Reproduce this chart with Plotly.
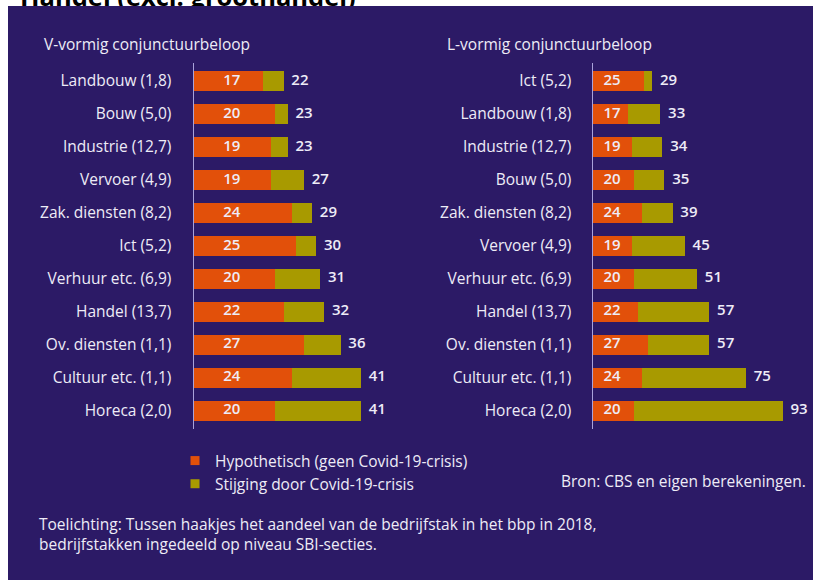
import plotly.graph_objects as go

W, H = 813, 580

# ---------------- data ----------------
title_text = "Handel (excl. groothandel)"
v_title = "V-vormig conjunctuurbeloop"
l_title = "L-vormig conjunctuurbeloop"

v_categories = ["Landbouw (1,8)", "Bouw (5,0)", "Industrie (12,7)", "Vervoer (4,9)",
                "Zak. diensten (8,2)", "Ict (5,2)", "Verhuur etc. (6,9)", "Handel (13,7)",
                "Ov. diensten (1,1)", "Cultuur etc. (1,1)", "Horeca (2,0)"]
v_hypo = [17, 20, 19, 19, 24, 25, 20, 22, 27, 24, 20]
v_total = [22, 23, 23, 27, 29, 30, 31, 32, 36, 41, 41]

l_categories = ["Ict (5,2)", "Landbouw (1,8)", "Industrie (12,7)", "Bouw (5,0)",
                "Zak. diensten (8,2)", "Vervoer (4,9)", "Verhuur etc. (6,9)", "Handel (13,7)",
                "Ov. diensten (1,1)", "Cultuur etc. (1,1)", "Horeca (2,0)"]
l_hypo = [25, 17, 19, 20, 24, 19, 20, 22, 27, 24, 20]
l_total = [29, 33, 34, 35, 39, 45, 51, 57, 57, 75, 93]

legend_names = ["Hypothetisch (geen Covid-19-crisis)", "Stijging door Covid-19-crisis"]
source_text = "Bron: CBS en eigen berekeningen."
note_text = ("Toelichting: Tussen haakjes het aandeel van de bedrijfstak in het bbp in 2018,<br>"
             "bedrijfstakken ingedeeld op niveau SBI-secties.")

# ---------------- style ----------------
BG = "#2C1A66"
ORANGE = "#E2500A"
OLIVE = "#A89A00"
TXT = "#EEECF7"
AXIS = "#A9A2DA"
FONT = "Open Sans"
FS = 15.5

def px(x):
    return x / W

def py(y):
    return 1 - y / H

fig = go.Figure()

panels = [
    (v_categories, v_hypo, v_total, "x", "y"),
    (l_categories, l_hypo, l_total, "x2", "y2"),
]

for cats, hypo, total, xa, ya in panels:
    inc = [t - h for t, h in zip(total, hypo)]
    fig.add_trace(go.Bar(y=cats, x=hypo, orientation="h", marker=dict(color=ORANGE, line=dict(width=0)),
                         xaxis=xa, yaxis=ya, showlegend=False, hoverinfo="skip"))
    fig.add_trace(go.Bar(y=cats, x=inc, orientation="h", marker=dict(color=OLIVE, line=dict(width=0)),
                         xaxis=xa, yaxis=ya, showlegend=False, hoverinfo="skip"))
    # value labels inside the orange part
    fig.add_trace(go.Scatter(y=cats, x=[9.3] * len(cats), mode="text", text=[str(v) for v in hypo],
                             textposition="middle center",
                             textfont=dict(family=FONT, size=15, color=TXT, weight=600),
                             xaxis=xa, yaxis=ya, showlegend=False, hoverinfo="skip", cliponaxis=False))
    # totals right of bar
    fig.add_trace(go.Scatter(y=cats, x=total, mode="text", text=["  " + str(v) for v in total],
                             textposition="middle right",
                             textfont=dict(family=FONT, size=15, color=TXT, weight=600),
                             xaxis=xa, yaxis=ya, showlegend=False, hoverinfo="skip", cliponaxis=False))

# legend entries
for name, col in zip(legend_names, [ORANGE, OLIVE]):
    fig.add_trace(go.Scatter(x=[None], y=[None], mode="markers", name=name,
                             marker=dict(symbol="square", size=9, color=col),
                             xaxis="x", yaxis="y"))

# partially hidden page title (covered by the purple panel)
fig.add_trace(go.Scatter(x=[20], y=[6], mode="text", text=[title_text], textposition="middle right",
                         textfont=dict(family=FONT, size=25.5, color="#000000", weight=700),
                         xaxis="x3", yaxis="y3", showlegend=False, hoverinfo="skip", cliponaxis=False))

ydom = [py(429), py(62.5)]
tickfont = dict(family=FONT, size=FS, color=TXT, weight=500)
fig.update_layout(
    width=W, height=H,
    margin=dict(l=0, r=0, t=0, b=0),
    paper_bgcolor="white",
    plot_bgcolor="rgba(0,0,0,0)",
    barmode="stack",
    bargap=0.4,
    font=dict(family=FONT, color=TXT),
    xaxis=dict(domain=[px(194), px(420)], range=[0, (420 - 194) / 4.07], visible=False, fixedrange=True),
    yaxis=dict(domain=ydom, anchor="x", autorange="reversed", showline=True, linecolor=AXIS, linewidth=1.5,
               showgrid=False, ticks="", ticklabelstandoff=18, tickfont=tickfont),
    xaxis2=dict(domain=[px(593), px(805)], range=[0, (805 - 593) / 2.04], visible=False, fixedrange=True),
    yaxis2=dict(domain=ydom, anchor="x2", autorange="reversed", showline=True, linecolor=AXIS, linewidth=1.5,
                showgrid=False, ticks="", ticklabelstandoff=17, tickfont=tickfont),
    xaxis3=dict(domain=[0, 1], range=[0, W], visible=False, fixedrange=True),
    yaxis3=dict(domain=[py(40), 1], range=[-34, 6], visible=False, fixedrange=True, anchor="x3"),
    showlegend=True,
    legend=dict(x=px(175), y=py(444), xanchor="left", yanchor="top", bgcolor="rgba(0,0,0,0)",
                traceorder="normal",
                font=dict(family=FONT, size=FS, color=TXT), tracegroupgap=0, itemclick=False),
    shapes=[
        dict(type="rect", xref="paper", yref="paper", x0=px(8), x1=1, y0=0, y1=py(6),
             fillcolor=BG, line=dict(width=0), layer="below"),
        dict(type="rect", xref="paper", yref="paper", x0=px(8), x1=1, y0=py(40), y1=py(6),
             fillcolor=BG, line=dict(width=0), layer="above"),
    ],
    annotations=[
        dict(text=v_title, x=px(42), y=py(44), xref="paper", yref="paper", xanchor="left", yanchor="middle",
             showarrow=False, font=dict(family=FONT, size=FS, color=TXT)),
        dict(text=l_title, x=px(445), y=py(44), xref="paper", yref="paper", xanchor="left", yanchor="middle",
             showarrow=False, font=dict(family=FONT, size=FS, color=TXT)),
        dict(text=source_text, x=px(808), y=py(481), xref="paper", yref="paper", xanchor="right",
             yanchor="middle", showarrow=False, font=dict(family=FONT, size=FS, color=TXT)),
        dict(text=note_text, x=px(37), y=py(511), xref="paper", yref="paper", xanchor="left",
             yanchor="top", align="left", showarrow=False, font=dict(family=FONT, size=FS, color=TXT)),
    ],
)

fig.write_html("out.html", config={"displayModeBar": False, "staticPlot": True},
               post_script="document.body.style.margin='0';document.body.style.overflow='hidden';")
